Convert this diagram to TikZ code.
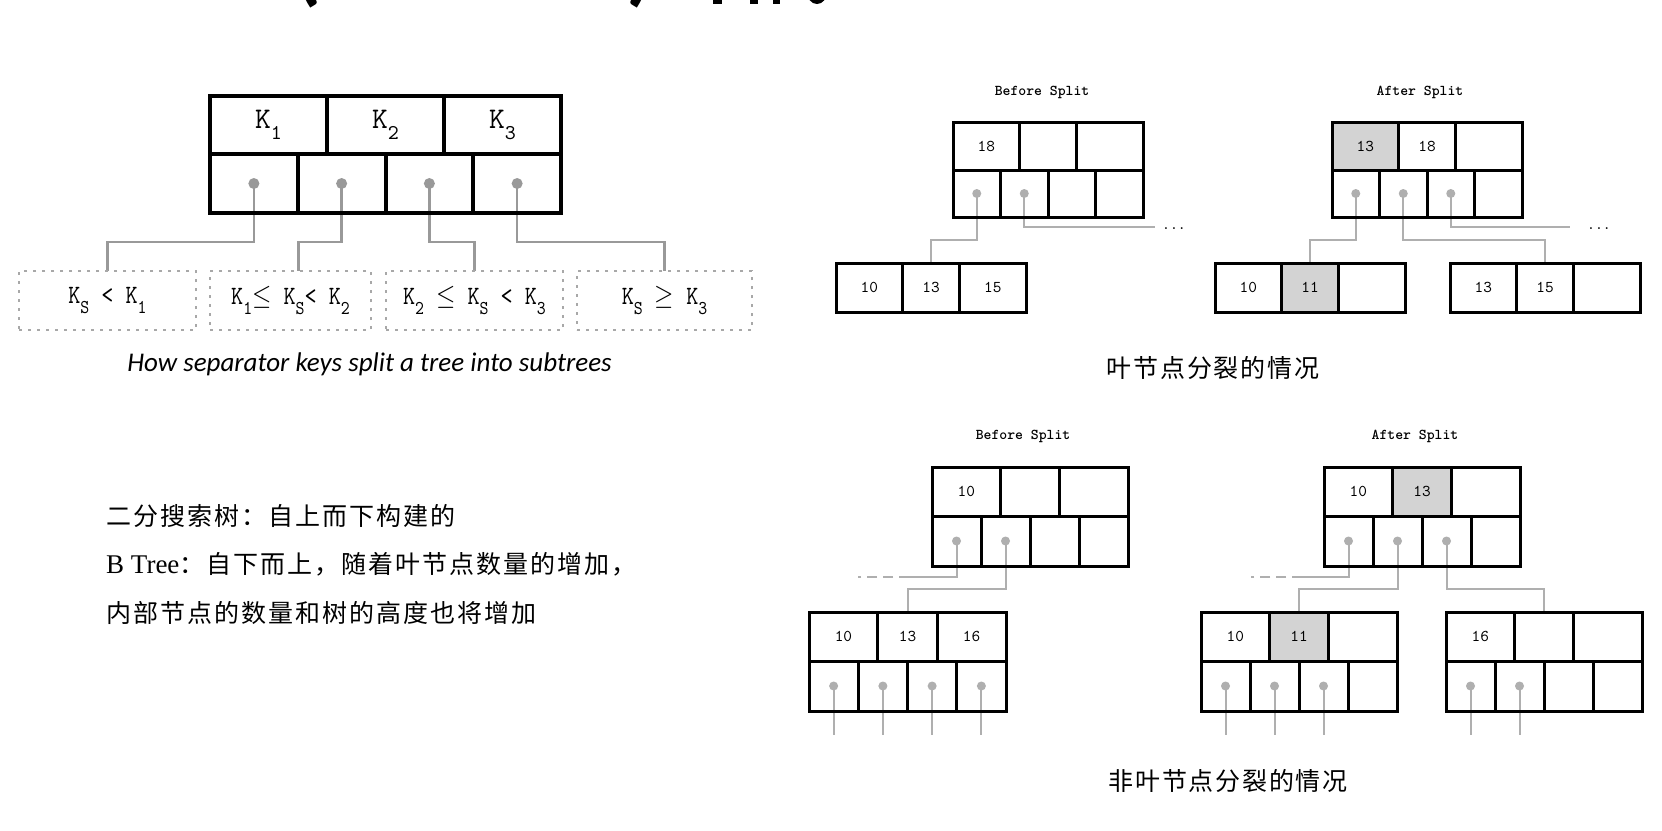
\documentclass[tikz,border=0pt]{standalone}
\usepackage{fontspec}
\newfontfamily\cjk{Noto Sans CJK SC}[LetterSpace=8]
\newfontfamily\cjkcap{Noto Sans CJK SC}[LetterSpace=7]
\newfontfamily\tms{Liberation Serif}
\newfontfamily\carl{Carlito}
\newfontfamily\kmono{lmmono10-regular.otf}
\newfontfamily\ttb{lmmonolt10-bold.otf}
\newfontfamily\numfont{lmmono10-regular.otf}
\definecolor{lgr}{HTML}{AFAFAF}
\definecolor{mgr}{HTML}{999999}
\definecolor{hlg}{HTML}{D3D3D3}
\definecolor{dsh}{HTML}{A8A8A8}
\pgfdeclarelayer{bg}
\pgfsetlayers{bg,main}
\newcommand\Kbig[1]{{\kmono\fontsize{30}{30}\selectfont K\raisebox{-0.38em}{\fontsize{21}{21}\selectfont #1}}}
\newcommand\Ks[1]{K\raisebox{-0.38em}{\fontsize{17}{17}\selectfont #1}}
\newcommand\tall[1]{\scalebox{1}[1.15]{#1}}
\tikzset{
  kcellL/.style={draw, line width=4pt, inner sep=0pt, outer sep=0pt, anchor=north west, minimum height=58, minimum width=117},
  pcellL/.style={draw, line width=4pt, inner sep=0pt, outer sep=0pt, anchor=north west, minimum height=59, minimum width=87.75},
  cellR/.style={draw, line width=3pt, inner sep=0pt, outer sep=0pt, anchor=north west, font=\numfont\fontsize{16.5}{16.5}\selectfont},
  subbox/.style={draw=dsh, line width=2pt, dash pattern=on 3pt off 6pt, inner sep=0pt, outer sep=0pt, anchor=north west, minimum height=59, font=\kmono\fontsize{23}{23}\selectfont},
  linkL/.style={draw=mgr, line width=2.5pt},
  linkR/.style={draw=lgr, line width=2pt},
  dashR/.style={draw=lgr, line width=2pt, dash pattern=on 10pt off 6pt, dash phase=10pt},
  dotL/.style={fill=mgr},
  dotR/.style={fill=lgr},
  sptitle/.style={font=\ttb\fontsize{15}{15}\selectfont},
  ellip/.style={anchor=base west, inner sep=0pt, font=\numfont\fontsize{15}{15}\selectfont},
  capc/.style={font=\cjkcap\fontsize{25}{28}\selectfont},
  leftline/.style={anchor=west, inner sep=0pt, font=\cjk\fontsize{25}{28}\selectfont},
  frag/.style={anchor=base, inner sep=0pt, font=\carl\bfseries\fontsize{90}{90}\selectfont},
}
\newcommand\bkeys[9]{%
  \begin{scope}[h1/.style={},h2/.style={},h3/.style={},h#9/.style={fill=hlg}]
  \node[cellR,h1,minimum width=0.35*#4,minimum height=#5] (#1k1) at (#2,#3) {#6};
  \node[cellR,h2,minimum width=0.3*#4,minimum height=#5] (#1k2) at (#2+0.35*#4,#3) {#7};
  \node[cellR,h3,minimum width=0.35*#4,minimum height=#5] (#1k3) at (#2+0.65*#4,#3) {#8};
  \end{scope}}
\newcommand\bptrs[6]{%
  \foreach \i in {1,...,4}{\node[cellR,minimum width=#4/4,minimum height=#5] (#1p\i) at ({#2+(\i-1)*#4/4},#3) {};}
  \foreach \i in {1,...,#6}{\fill[dotR] (#1p\i.center) circle (4.5pt);}}
\begin{document}
\begin{tikzpicture}[x=1pt,y=-1pt]
\begin{pgfonlayer}{bg}
\fill[white] (0,0) rectangle (1662,830);
\end{pgfonlayer}
\useasboundingbox (0,0) rectangle (1662,830);

% clipped title fragments (top edge)
\begin{scope}
\clip (0,0) rectangle (1662,830);
\node[frag] (tpa) at (308,-6) {(};
\node[frag] (tpb) at (641,-6) {)};
\fill (713,-2) rectangle (722,4);
\fill (750,-2) rectangle (758,4);
\fill (773,-2) rectangle (780,4);
\fill (817,-8) ellipse [x radius=10pt, y radius=12pt];
\fill[white] (817,-8) ellipse [x radius=5pt, y radius=7pt];
\end{scope}

% ---------- left: separator keys ----------
\node[kcellL] (kA) at (210,96) {\Kbig{1}};
\node[kcellL] (kB) at (327,96) {\Kbig{2}};
\node[kcellL] (kC) at (444,96) {\Kbig{3}};
\node[pcellL] (pA) at (210,154) {};
\node[pcellL] (pB) at (297.75,154) {};
\node[pcellL] (pC) at (385.5,154) {};
\node[pcellL] (pD) at (473.25,154) {};

\node[subbox, minimum width=177] (sA) at (19,271) {\tall{\Ks{S} < \Ks{1}}};
\node[subbox, minimum width=161] (sB) at (210,271) {\tall{\Ks{1}$\leq$ \Ks{S}< \Ks{2}}};
\node[subbox, minimum width=177] (sC) at (386,271) {\tall{\Ks{2} $\leq$ \Ks{S} < \Ks{3}}};
\node[subbox, minimum width=175] (sD) at (577,271) {\tall{\Ks{S} $\geq$ \Ks{3}}};

\coordinate (hL) at (0,242);
\begin{pgfonlayer}{bg}
\draw[linkL] (pA.center) -- (pA.center |- hL) -| (sA.north);
\draw[linkL] (pB.center) -- (pB.center |- hL) -| ([xshift=8pt]sB.north);
\draw[linkL] (pC.center) -- (pC.center |- hL) -| (sC.north);
\draw[linkL] (pD.center) -- (pD.center |- hL) -| (sD.north);
\end{pgfonlayer}
\foreach \n in {pA,pB,pC,pD}{\fill[dotL] (\n.center) circle (5.5pt);}

\node[font=\carl\itshape\fontsize{27}{30}\selectfont] (capL) at (369.5,364) {How separator keys split a tree into subtrees};

\node[leftline] (t1) at (106,516) {二分搜索树：自上而下构建的};
\node[leftline] (t2) at (106,564) {{\tms\fontsize{27}{28}\selectfont B Tree}：自下而上，随着叶节点数量的增加，};
\node[leftline] (t3) at (106,613) {内部节点的数量和树的高度也将增加};

% ---------- right top: leaf split ----------
\node[sptitle] (bt1) at (1042,92) {Before Split};
\node[sptitle] (at1) at (1420,92) {After Split};

\bkeys{A}{953}{122}{190}{48}{18}{}{}{0}
\bptrs{A}{953}{170}{190}{47}{2}
\bkeys{AL}{836}{263}{190}{49}{10}{13}{15}{0}

\bkeys{B}{1332}{122}{190}{48}{13}{18}{}{1}
\bptrs{B}{1332}{170}{190}{47}{3}
\bkeys{BL}{1215}{263}{190}{49}{10}{11}{}{2}
\bkeys{BR}{1450}{263}{190}{49}{13}{15}{}{0}

\coordinate (hA1) at (0,240);
\coordinate (hA2) at (0,227);
\coordinate (eA) at (1155,227);
\coordinate (eB) at (1570,227);
\begin{pgfonlayer}{bg}
\draw[linkR] (Ap1.center) -- (Ap1.center |- hA1) -| (ALk2.north);
\draw[linkR] (Ap2.center) -- (Ap2.center |- hA2) -- (eA);
\draw[linkR] (Bp1.center) -- (Bp1.center |- hA1) -| (BLk2.north);
\draw[linkR] (Bp2.center) -- (Bp2.center |- hA1) -| (BRk2.north);
\draw[linkR] (Bp3.center) -- (Bp3.center |- hA2) -- (eB);
\end{pgfonlayer}
\node[ellip] (elA) at (1162,229) {...};
\node[ellip] (elB) at (1587,229) {...};

\node[capc] (cap1) at (1213,368) {叶节点分裂的情况};

% ---------- right bottom: non-leaf split ----------
\node[sptitle] (bt2) at (1023,436) {Before Split};
\node[sptitle] (at2) at (1415,436) {After Split};

\bkeys{C}{932}{467}{196}{49}{10}{}{}{0}
\bptrs{C}{932}{516}{196}{50}{2}
\bkeys{CC}{809}{612}{197}{49}{10}{13}{16}{0}
\bptrs{CC}{809}{661}{197}{50}{4}

\bkeys{D}{1324}{467}{196}{49}{10}{13}{}{2}
\bptrs{D}{1324}{516}{196}{50}{3}
\bkeys{DL}{1201}{612}{196}{49}{10}{11}{}{2}
\bptrs{DL}{1201}{661}{196}{50}{3}
\bkeys{DR}{1446}{612}{196}{49}{16}{}{}{0}
\bptrs{DR}{1446}{661}{196}{50}{2}

\coordinate (hC1) at (0,577);
\coordinate (hC2) at (0,589);
\coordinate (stub) at (0,735);
\coordinate (dC) at (899,577);
\coordinate (dC2) at (858,577);
\coordinate (dD) at (1292,577);
\coordinate (dD2) at (1251,577);
\begin{pgfonlayer}{bg}
\draw[linkR] (Cp1.center) -- (Cp1.center |- hC1) -- (dC);
\draw[dashR] (dC) -- (dC2);
\draw[linkR] (Cp2.center) -- (Cp2.center |- hC2) -| (CCk2.north);
\draw[linkR] (Dp1.center) -- (Dp1.center |- hC1) -- (dD);
\draw[dashR] (dD) -- (dD2);
\draw[linkR] (Dp2.center) -- (Dp2.center |- hC2) -| (DLk2.north);
\draw[linkR] (Dp3.center) -- (Dp3.center |- hC2) -| (DRk2.north);
\foreach \n in {CCp1,CCp2,CCp3,CCp4,DLp1,DLp2,DLp3,DRp1,DRp2}{\draw[linkR] (\n.center) -- (\n.center |- stub);}
\end{pgfonlayer}

\node[capc] (cap2) at (1228,781) {非叶节点分裂的情况};
\end{tikzpicture}
\end{document}
